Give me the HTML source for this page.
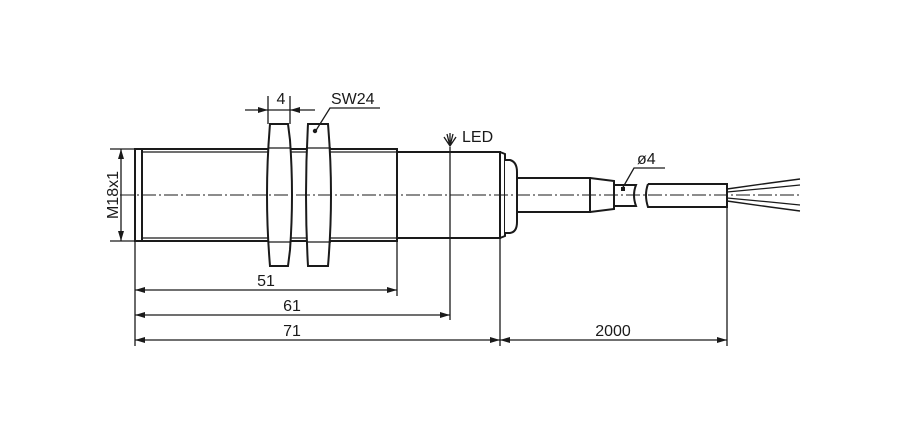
<!DOCTYPE html><html><head><style>body{margin:0;background:#fff}svg{display:block}text{font-family:"Liberation Sans",sans-serif;fill:#1a1a1a}</style></head><body>
<svg width="914" height="444" viewBox="0 0 914 444" xmlns="http://www.w3.org/2000/svg">
<defs><marker id="a" viewBox="0 0 10 6" refX="10" refY="3" markerWidth="11" markerHeight="6" orient="auto-start-reverse" markerUnits="userSpaceOnUse"><path d="M0,0L10,3L0,6z" fill="#1a1a1a"/></marker></defs>
<g stroke="#1a1a1a" fill="none" stroke-width="2">
<rect x="135" y="149" width="262" height="92" fill="#fff"/>
<line x1="142" y1="149" x2="142" y2="241"/>
<line x1="142" y1="152" x2="397" y2="152" stroke-width="1.2"/>
<line x1="142" y1="238" x2="397" y2="238" stroke-width="1.2"/>
<rect x="397" y="152" width="103" height="86" fill="#fff"/>
<path d="M500,152 L505,154 L505,236 L500,238"/>
<path d="M505,160 L510,160 Q517,162 517,172 L517,222 Q517,232 510,233 L505,233" fill="#fff"/>
<path d="M270,124 L288,124 L290,140 Q294,195 290,250 L288,266 L270,266 Q264,195 270,124z" fill="#fff"/>
<line x1="268" y1="148" x2="291" y2="148" stroke-width="1.2"/><line x1="268" y1="242" x2="291" y2="242" stroke-width="1.2"/>
<path d="M308,124 L328,124 Q334,195 328,266 L308,266 Q304,195 308,124z" fill="#fff"/>
<line x1="306" y1="148" x2="331" y2="148" stroke-width="1.2"/><line x1="306" y1="242" x2="331" y2="242" stroke-width="1.2"/>
<rect x="517" y="178" width="73" height="34" fill="#fff"/>
<path d="M590,178 L614,181 L614,209 L590,212"/>
<path d="M614,185 L636,185 Q632,195 636,206 L614,206"/>
<path d="M648,184 L727,184 L727,207 L648,207 Q644,195 648,184"/>
<path d="M727,189 L770,183 L800,179 M727,201 L770,207 L800,211" stroke-width="1.4"/>
<path d="M727,192 L770,188 L800,185 M727,198 L770,202 L800,205" stroke-width="1.2"/>
<line x1="120" y1="195" x2="800" y2="195" stroke-width="1" stroke-dasharray="14,3,2,3"/>
<g stroke-width="1.3">
<line x1="135" y1="241" x2="135" y2="346"/>
<line x1="397" y1="238" x2="397" y2="296"/>
<line x1="450" y1="147" x2="450" y2="320"/>
<line x1="500" y1="238" x2="500" y2="346"/>
<line x1="727" y1="207" x2="727" y2="346"/>
<line x1="110" y1="149" x2="135" y2="149"/><line x1="110" y1="241" x2="135" y2="241"/>
<line x1="268" y1="96" x2="268" y2="124"/><line x1="290" y1="96" x2="290" y2="124"/>
<line x1="135" y1="290" x2="397" y2="290" marker-start="url(#a)" marker-end="url(#a)"/>
<line x1="135" y1="315" x2="450" y2="315" marker-start="url(#a)" marker-end="url(#a)"/>
<line x1="135" y1="340" x2="500" y2="340" marker-start="url(#a)" marker-end="url(#a)"/>
<line x1="500" y1="340" x2="727" y2="340" marker-start="url(#a)" marker-end="url(#a)"/>
<line x1="121" y1="149" x2="121" y2="241" marker-start="url(#a)" marker-end="url(#a)"/>
<line x1="245" y1="110" x2="268" y2="110" marker-end="url(#a)"/>
<line x1="315" y1="110" x2="290" y2="110" marker-end="url(#a)"/>
<line x1="268" y1="110" x2="290" y2="110"/>
<path d="M315,132 L330,108 L380,108"/>
<path d="M622,189 L634,168 L665,168"/>
<path d="M444,137 L450,146 L456,137 M447,134 L450,146 M453,134 L450,146 M450,133 L450,146"/>
</g>
</g>
<circle cx="315" cy="131" r="2.2" fill="#1a1a1a"/>
<rect x="621" y="187" width="4" height="4" fill="#1a1a1a"/>
<g font-size="16">
<text x="281" y="104" text-anchor="middle">4</text>
<text x="331" y="104">SW24</text>
<text x="462" y="142">LED</text>
<text x="637" y="164">ø4</text>
<text x="266" y="286" text-anchor="middle">51</text>
<text x="292" y="311" text-anchor="middle">61</text>
<text x="292" y="336" text-anchor="middle">71</text>
<text x="613" y="336" text-anchor="middle">2000</text>
<text transform="translate(118,195) rotate(-90)" text-anchor="middle">M18x1</text>
</g>
</svg></body></html>
